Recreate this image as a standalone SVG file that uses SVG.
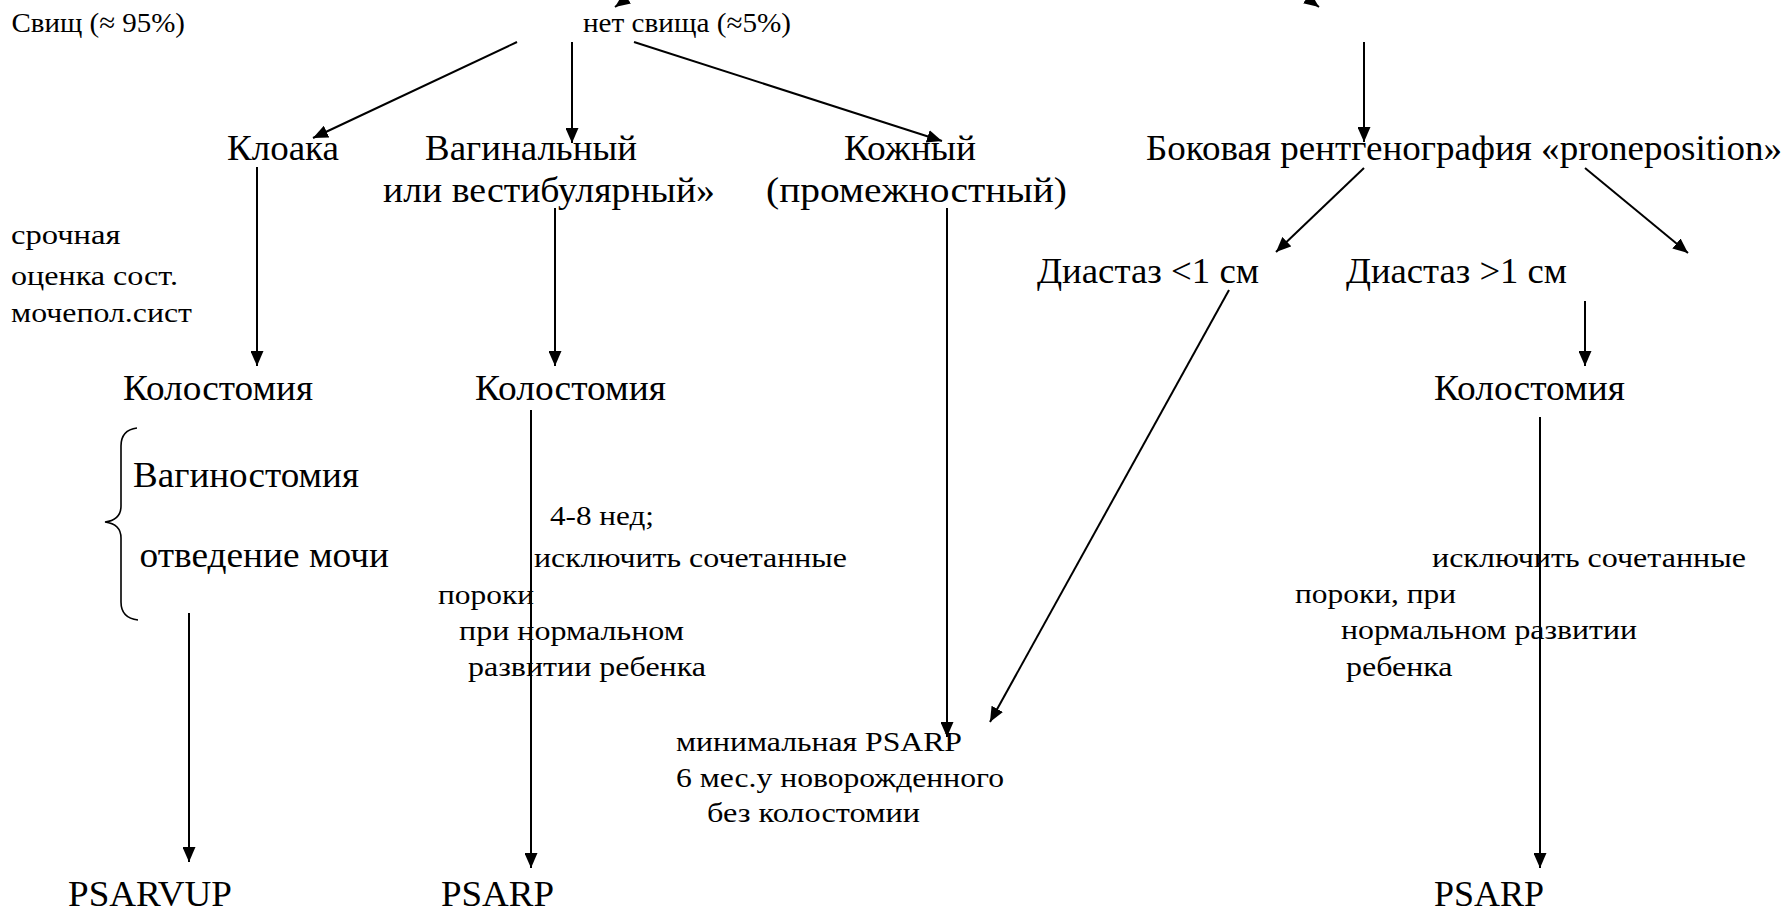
<svg xmlns="http://www.w3.org/2000/svg" width="1786" height="911" viewBox="0 0 1786 911">
<style>
text{font-family:"Liberation Serif","Times New Roman",serif;fill:#000}
.s{font-size:28px}
.b{font-size:36px}
.c line,.c path{stroke:#000;stroke-width:2;fill:none}
.br{stroke:#000;stroke-width:1.6;fill:none}
</style>
<defs>
<marker id="ah" markerUnits="userSpaceOnUse" markerWidth="15" markerHeight="13" refX="15" refY="6.5" orient="auto" viewBox="0 0 15 13">
<path d="M0,0 L15,6.5 L0,13 z" fill="#000"/>
</marker>
</defs>
<rect width="1786" height="911" fill="#fff"/>
<g class="c" id="connectors">
<line x1="655" y1="-22" x2="615" y2="7" marker-end="url(#ah)"/>
<line x1="1285" y1="-18" x2="1319" y2="7" marker-end="url(#ah)"/>
<line x1="517" y1="42" x2="313" y2="138" marker-end="url(#ah)"/>
<line x1="572" y1="42" x2="572" y2="143" marker-end="url(#ah)"/>
<line x1="634" y1="42" x2="942" y2="141" marker-end="url(#ah)"/>
<line x1="1364" y1="42" x2="1364" y2="142" marker-end="url(#ah)"/>
<line x1="1364" y1="168" x2="1276" y2="252" marker-end="url(#ah)"/>
<line x1="1585" y1="168" x2="1688" y2="253" marker-end="url(#ah)"/>
<line x1="257" y1="167" x2="257" y2="366" marker-end="url(#ah)"/>
<line x1="555" y1="208" x2="555" y2="366" marker-end="url(#ah)"/>
<line x1="947" y1="208" x2="947" y2="737" marker-end="url(#ah)"/>
<line x1="1229" y1="290" x2="990" y2="722" marker-end="url(#ah)"/>
<line x1="1585" y1="301" x2="1585" y2="366" marker-end="url(#ah)"/>
<line x1="531" y1="410" x2="531" y2="868" marker-end="url(#ah)"/>
<line x1="189" y1="613" x2="189" y2="862" marker-end="url(#ah)"/>
<line x1="1540" y1="417" x2="1540" y2="868" marker-end="url(#ah)"/>
</g>
<g id="n-svisch"><text class="s" x="11.5" y="32" textLength="173.5" lengthAdjust="spacingAndGlyphs">Свищ (≈ 95%)</text></g>
<g id="n-net"><text class="s" x="583" y="32" textLength="208" lengthAdjust="spacingAndGlyphs">нет свища (≈5%)</text></g>
<g id="n-kloaka"><text class="b" x="227" y="160" textLength="112" lengthAdjust="spacingAndGlyphs">Клоака</text></g>
<g id="n-vag"><text class="b" x="425" y="160" textLength="212" lengthAdjust="spacingAndGlyphs">Вагинальный</text><text class="b" x="383" y="202" textLength="332" lengthAdjust="spacingAndGlyphs">или вестибулярный»</text></g>
<g id="n-kozh"><text class="b" x="844" y="160" textLength="132" lengthAdjust="spacingAndGlyphs">Кожный</text><text class="b" x="766" y="202" textLength="301" lengthAdjust="spacingAndGlyphs">(промежностный)</text></g>
<g id="n-bok"><text class="b" x="1146" y="160" textLength="636" lengthAdjust="spacingAndGlyphs">Боковая рентгенография «proneposition»</text></g>
<g id="n-sroch"><text class="s" x="11" y="244" textLength="109.5" lengthAdjust="spacingAndGlyphs">срочная</text><text class="s" x="11" y="285" textLength="167" lengthAdjust="spacingAndGlyphs">оценка сост.</text><text class="s" x="11" y="322" textLength="181" lengthAdjust="spacingAndGlyphs">мочепол.сист</text></g>
<g id="n-d1"><text class="b" x="1037" y="283" textLength="222" lengthAdjust="spacingAndGlyphs">Диастаз &lt;1 см</text></g>
<g id="n-d2"><text class="b" x="1346" y="283" textLength="221" lengthAdjust="spacingAndGlyphs">Диастаз &gt;1 см</text></g>
<g id="n-kol1"><text class="b" x="123" y="400" textLength="190" lengthAdjust="spacingAndGlyphs">Колостомия</text></g>
<g id="n-kol2"><text class="b" x="475" y="400" textLength="191" lengthAdjust="spacingAndGlyphs">Колостомия</text></g>
<g id="n-kol3"><text class="b" x="1434" y="400" textLength="191" lengthAdjust="spacingAndGlyphs">Колостомия</text></g>
<g id="n-brace"><path class="br" d="M137,428 Q121,430 121,446 L121,506 Q121,520 105,522 Q121,524 121,538 L121,602 Q121,618 138,620"/><text class="b" x="133" y="487" textLength="226" lengthAdjust="spacingAndGlyphs">Вагиностомия</text><text class="b" x="139.5" y="567" textLength="249.5" lengthAdjust="spacingAndGlyphs">отведение мочи</text></g>
<g id="n-note1"><text class="s" x="550" y="525" textLength="104" lengthAdjust="spacingAndGlyphs">4-8 нед;</text><text class="s" x="534" y="567" textLength="313" lengthAdjust="spacingAndGlyphs">исключить сочетанные</text><text class="s" x="438" y="604" textLength="96" lengthAdjust="spacingAndGlyphs">пороки</text><text class="s" x="459" y="640" textLength="225" lengthAdjust="spacingAndGlyphs">при нормальном</text><text class="s" x="468" y="676" textLength="238" lengthAdjust="spacingAndGlyphs">развитии ребенка</text></g>
<g id="n-min"><text class="s" x="676" y="751" textLength="286" lengthAdjust="spacingAndGlyphs">минимальная PSARP</text><text class="s" x="676" y="787" textLength="328" lengthAdjust="spacingAndGlyphs">6 мес.у новорожденного</text><text class="s" x="707" y="822" textLength="213" lengthAdjust="spacingAndGlyphs">без колостомии</text></g>
<g id="n-note2"><text class="s" x="1432" y="567" textLength="314" lengthAdjust="spacingAndGlyphs">исключить сочетанные</text><text class="s" x="1295" y="603" textLength="161" lengthAdjust="spacingAndGlyphs">пороки, при</text><text class="s" x="1341" y="639" textLength="296" lengthAdjust="spacingAndGlyphs">нормальном развитии</text><text class="s" x="1346" y="676" textLength="106.5" lengthAdjust="spacingAndGlyphs">ребенка</text></g>
<g id="n-psarvup"><text class="b" x="68" y="906" textLength="164" lengthAdjust="spacingAndGlyphs">PSARVUP</text></g>
<g id="n-psarp1"><text class="b" x="441" y="906" textLength="113" lengthAdjust="spacingAndGlyphs">PSARP</text></g>
<g id="n-psarp2"><text class="b" x="1434" y="906" textLength="110" lengthAdjust="spacingAndGlyphs">PSARP</text></g>
</svg>
